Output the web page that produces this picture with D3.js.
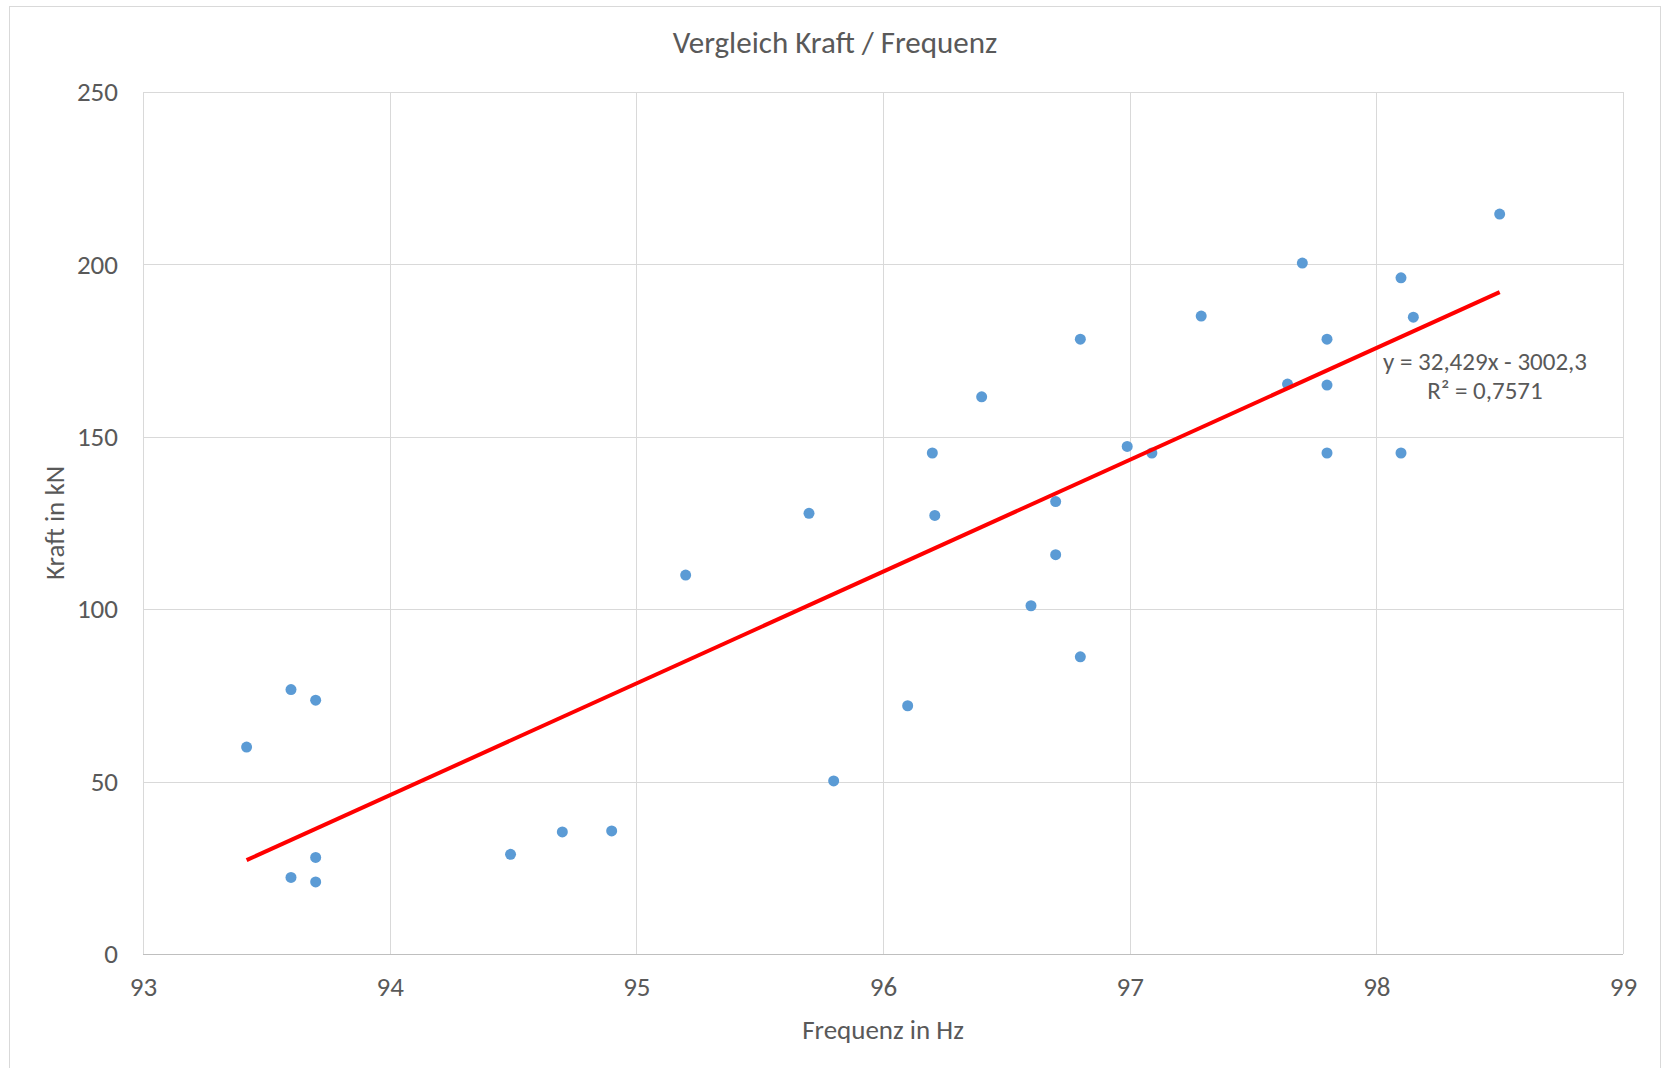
<!DOCTYPE html>
<html>
<head>
<meta charset="utf-8">
<script src="https://cdn.jsdelivr.net/npm/d3@7"></script>
<style>
  body { margin: 0; background: #ffffff; }
  svg { display: block; }
  text { font-family: Calibri, Carlito, Lato, sans-serif; fill: #595959; }
</style>
</head>
<body>
<div id="chart"></div>
<script>
var frequenz = [93.42, 93.6, 93.7, 93.7, 93.6, 93.7, 94.49, 94.7, 94.9, 95.2,
                95.7, 95.8, 96.1, 96.2, 96.21, 96.4, 96.6, 96.7, 96.7, 96.8,
                96.8, 96.99, 97.09, 97.29, 97.64, 97.7, 97.8, 97.8, 97.8, 98.1,
                98.15, 98.1, 98.5];
var kraft = [60.0, 76.7, 73.6, 28.0, 22.2, 20.9, 28.9, 35.4, 35.7, 109.9,
             127.8, 50.2, 72.0, 145.3, 127.2, 161.6, 101.0, 131.2, 115.8, 178.3,
             86.2, 147.2, 145.3, 185.0, 165.3, 200.4, 178.3, 165.0, 145.3, 196.1,
             184.7, 145.3, 214.6];

var xTicks = [93, 94, 95, 96, 97, 98, 99];
var yTicks = [0, 50, 100, 150, 200, 250];

// Trendlinie laut Excel
var steigung = 32.429;
var achsenabschnitt = -3002.3;
var trendText = ["y = 32,429x - 3002,3", "R² = 0,7571"];

var width = 1663, height = 1068;
var padding = { top: 92, right: 40, bottom: 114, left: 143 };
var coordWidth = width - padding.left - padding.right;
var coordHeight = height - padding.top - padding.bottom;

var svg = d3.select("#chart").append("svg")
    .attr("width", width)
    .attr("height", height);

// Diagrammrahmen
svg.append("rect")
    .attr("x", 9.5).attr("y", 6.5)
    .attr("width", 1651).attr("height", 1070)
    .attr("fill", "#ffffff")
    .attr("stroke", "#d9d9d9");

var chart = svg.append("g")
    .attr("transform", "translate(" + padding.left + "," + padding.top + ")");

var xScale = d3.scaleLinear().domain([93, 99]).range([0, coordWidth]);
var yScale = d3.scaleLinear().domain([0, 250]).range([coordHeight, 0]);

// Gitter
chart.append("g")
    .attr("class", "grid")
    .selectAll("line.v")
    .data(xTicks)
    .enter().append("line")
    .attr("x1", function(d) { return Math.round(xScale(d)) + 0.5; })
    .attr("x2", function(d) { return Math.round(xScale(d)) + 0.5; })
    .attr("y1", 0).attr("y2", coordHeight)
    .attr("stroke", "#d9d9d9");

chart.append("g")
    .attr("class", "grid")
    .selectAll("line.h")
    .data(yTicks)
    .enter().append("line")
    .attr("y1", function(d) { return Math.round(yScale(d)) + 0.5; })
    .attr("y2", function(d) { return Math.round(yScale(d)) + 0.5; })
    .attr("x1", 0).attr("x2", coordWidth)
    .attr("stroke", function(d) { return d === 0 ? "#bfbfbf" : "#d9d9d9"; });

// Achsen (nur Beschriftung)
var xAxis = chart.append("g")
    .attr("class", "axis x-axis")
    .attr("transform", "translate(0," + coordHeight + ")")
    .call(d3.axisBottom(xScale).tickValues(xTicks).tickSize(0).tickPadding(23).tickFormat(d3.format("d")));
xAxis.select(".domain").remove();
xAxis.selectAll("text")
    .attr("font-size", 27)
    .attr("font-family", "Calibri, Carlito, Lato, sans-serif")
    .attr("fill", "#595959");

var yAxis = chart.append("g")
    .attr("class", "axis y-axis")
    .call(d3.axisLeft(yScale).tickValues(yTicks).tickSize(0).tickPadding(25).tickFormat(d3.format("d")));
yAxis.select(".domain").remove();
yAxis.selectAll("text")
    .attr("font-size", 27)
    .attr("font-family", "Calibri, Carlito, Lato, sans-serif")
    .attr("fill", "#595959");

// Trendlinie
var xExt = d3.extent(frequenz);
var trendData = xExt.map(function(x) { return { x: x, y: steigung * x + achsenabschnitt }; });
var line = d3.line()
    .x(function(d) { return xScale(d.x); })
    .y(function(d) { return yScale(d.y); });

// Punkte
chart.selectAll("circle.punkt")
    .data(frequenz)
    .enter().append("circle")
    .attr("class", "punkt")
    .attr("cx", function(d) { return xScale(d); })
    .attr("cy", function(d, i) { return yScale(kraft[i]); })
    .attr("r", 5.5)
    .attr("fill", "#5b9bd5");

chart.append("path")
    .datum(trendData)
    .attr("fill", "none")
    .attr("stroke", "#ff0000")
    .attr("stroke-width", 4)
    .attr("d", line);

// Gleichung
var gl = svg.append("text")
    .attr("x", 1485)
    .attr("y", 370)
    .attr("text-anchor", "middle")
    .attr("font-size", 25);
gl.selectAll("tspan")
    .data(trendText)
    .enter().append("tspan")
    .attr("x", 1485)
    .attr("dy", function(d, i) { return i === 0 ? 0 : 29; })
    .text(function(d) { return d; });

// Titel
svg.append("text")
    .attr("x", 835)
    .attr("y", 53)
    .attr("text-anchor", "middle")
    .attr("font-size", 31)
    .text("Vergleich Kraft / Frequenz");

svg.append("text")
    .attr("x", padding.left + coordWidth / 2)
    .attr("y", 1039)
    .attr("text-anchor", "middle")
    .attr("font-size", 27)
    .text("Frequenz in Hz");

svg.append("text")
    .attr("transform", "translate(64," + (padding.top + coordHeight / 2) + ") rotate(-90)")
    .attr("text-anchor", "middle")
    .attr("font-size", 27)
    .text("Kraft in kN");
</script>
</body>
</html>
